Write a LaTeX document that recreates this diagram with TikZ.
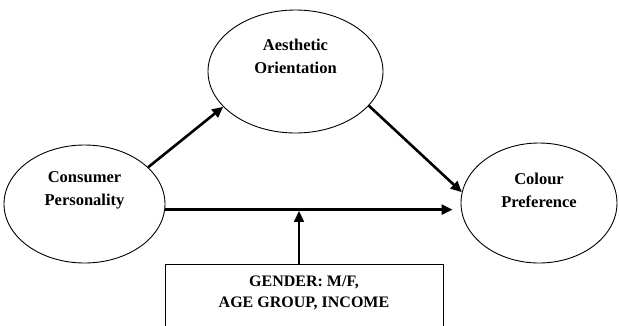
\documentclass[tikz,border=0pt]{standalone}
\usepackage{fontspec}
\setmainfont{Liberation Serif}
\usetikzlibrary{shapes.geometric,arrows.meta}
\begin{document}
\begin{tikzpicture}[x=1pt,y=-1pt,
  oval/.style={draw,line width=0.9pt,ellipse,inner sep=0pt},
  lbl/.style={font=\bfseries\fontsize{16.5}{23}\selectfont,align=center,inner sep=0pt},
  boxlbl/.style={font=\bfseries\fontsize{16}{21}\selectfont,align=center,inner sep=0pt},
  arr/.style={line width=2.6pt,-{Triangle[length=11pt,width=10pt]}},
  thinarr/.style={line width=1.6pt,-{Triangle[length=11pt,width=10pt]}}]
\clip (0,0) rectangle (619,325);
\fill[white] (0,0) rectangle (619,325);
% ellipses
\node[oval,minimum width=175pt,minimum height=123pt] (aes) at (295.5,71.5) {};
\node[oval,minimum width=161pt,minimum height=118pt] (cons) at (84.5,204) {};
\node[oval,minimum width=156pt,minimum height=120pt] (col) at (539,203) {};
% labels
\node[lbl] (aest) at (295.5,56) {Aesthetic\\Orientation};
\node[lbl] (const) at (84.5,190) {Consumer\\Personality};
\node[lbl] (colt) at (539,190.5) {Colour\\Preference};
% moderator box
\node[draw,line width=0.9pt,minimum width=278pt,minimum height=80pt,anchor=north,inner sep=0pt] (box) at (304,264) {};
\node[boxlbl] (boxt) at (304,293) {GENDER: M/F,\\AGE GROUP, INCOME};
% arrows
\draw[arr] (cons.30) -- (aes.206.7);
\draw[arr] (aes.-25) -- (col.172);
\coordinate (hl) at ([xshift=-8pt]col.west |- cons.-4.3);
\draw[arr] (cons.-4.3) -- (hl);
\draw[thinarr,shorten >=1.3pt] ([xshift=-5pt]box.north) -- ([xshift=-5pt]box.north |- hl);
\end{tikzpicture}
\end{document}
